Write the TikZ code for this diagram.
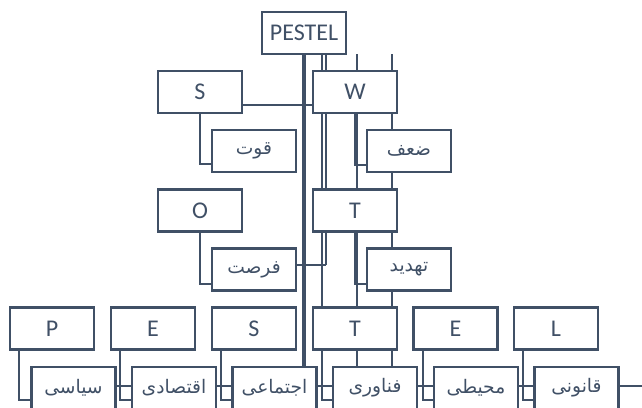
\documentclass[tikz,border=0pt]{standalone}
\usepackage{fontspec}
\setmainfont{Carlito}
\newfontfamily\farsi[Script=Arabic]{DejaVu Sans}
\TeXXeTstate=1
\usetikzlibrary{calc}
\definecolor{slate}{RGB}{64,80,102}
\pgfdeclarelayer{bg}
\pgfsetlayers{bg,main}

\begin{document}
\begin{tikzpicture}[x=0.75pt,y=-0.75pt,
    box/.style={draw=slate,fill=white,line width=1.6pt,minimum width=63pt,
                minimum height=31.5pt,inner sep=0pt,outer sep=0pt,text=slate,
                font=\fontsize{18}{20}\selectfont},
    fa/.style={box,font=\farsi\fontsize{14}{16}\selectfont},
    link/.style={draw=slate,line width=1.5pt},
    trunk/.style={link,line width=2.4pt}]
  \useasboundingbox (0,0) rectangle (642,407);

  % root and SWOT
  \node[box] (pestel) at (304,33) {PESTEL};
  \node[box] (ks) at (200,92) {S};
  \node[box] (kw) at (355,92) {W};
  \node[fa] (str) at (254,151) {\beginR قوت\endR};
  \node[fa] (wea) at (409,151) {\beginR ضعف\endR};
  \node[box] (ko) at (200,210.5) {O};
  \node[box] (kt) at (355,210.5) {T};
  \node[fa] (opp) at (254,269.5) {\beginR فرصت\endR};
  \node[fa] (thr) at (409,269.5) {\beginR تهدید\endR};

  % PESTEL row
  \node[box] (p)  at (52,328.5)    {P};
  \node[box] (e)  at (153,328.5)   {E};
  \node[box] (s)  at (254,328.5)   {S};
  \node[box] (t)  at (355,328.5)   {T};
  \node[box] (en) at (455.5,328.5) {E};
  \node[box] (l)  at (556,328.5)   {L};
  \node[fa] (pol) at (73.5,388)  {\beginR سیاسی\endR};
  \node[fa] (eco) at (174,388)   {\beginR اقتصادی\endR};
  \node[fa] (soc) at (274.5,388) {\beginR اجتماعی\endR};
  \node[fa] (tec) at (375,388)   {\beginR فناوری\endR};
  \node[fa] (env) at (476,388)   {\beginR محیطی\endR};
  \node[fa] (leg) at (576.5,388) {\beginR قانونی\endR};

  \coordinate (j1) at ($(kt.south west)+(9,33)$);
  \coordinate (c1) at ($(kw.north)+(2,0)$);
  \coordinate (c2) at ($(kw.north east)+(-5,0)$);
  \coordinate (rim) at (642,386);

  \begin{pgfonlayer}{bg}
    \draw[trunk] (pestel.south) -- (pestel.south |- soc.north);
    \draw[link] (pestel.south -| j1) -- (j1);
    \draw[link] ($(pestel.south -| j1)+(4,0)$) -- ($(j1)+(4,0)$);
    \draw[link] (opp.east |- j1) -- ($(j1)+(4,0)$);
    \draw[link] (j1) |- ($(tec.south west)+(0,-9)$);
    \draw[link] (pestel.south -| c1) -- (c1 |- tec.north);
    \draw[link] (pestel.south -| c2) -- (c2 |- tec.north);
    \draw[link] ($(ks.south east)+(0,-8)$) -- ($(kw.south west)+(0,-8)$);
    \draw[link] (ks.south) |- ($(str.south west)+(0,-8)$);
    \draw[link] (ko.south) |- ($(opp.south west)+(0,-7)$);
    \draw[link] (kw.south) |- ($(wea.south west)+(0,-7)$);
    \draw[link] (kt.south) |- ($(thr.south west)+(0,-7)$);
    % letter to word elbows
    \foreach \k/\w in {p/pol,e/eco,s/soc,en/env,l/leg}
      \draw[link] ($(\k.south west)+(9,0)$) |- ($(\w.south west)+(0,-9)$);
    \draw[link,line width=2pt] ($(pol.east)+(0,-2)$) -- (rim);
  \end{pgfonlayer}
\end{tikzpicture}
\end{document}
